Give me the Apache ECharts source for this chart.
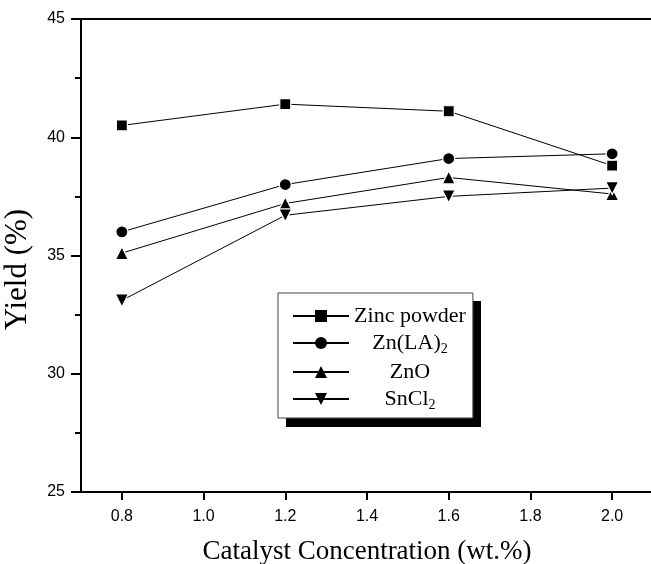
<!DOCTYPE html>
<html>
<head>
<meta charset="utf-8">
<script src="https://cdn.jsdelivr.net/npm/echarts@6/dist/echarts.min.js"></script>
<style>
  html, body { margin: 0; padding: 0; background: #fff; }
  #main { width: 651px; height: 564px; }
</style>
</head>
<body>
<div id="main"></div>
<script>
// catalyst concentration (wt.%) on x, yield (%) on y
var concentration = [0.8, 1.2, 1.6, 2.0];
var zincPowder = [40.5, 41.4, 41.1, 38.8];
var znLA2 = [36.0, 38.0, 39.1, 39.3];
var znO = [35.1, 37.2, 38.3, 37.6];
var snCl2 = [33.1, 36.7, 37.5, 37.85];
var xTicks = [0.8, 1.0, 1.2, 1.4, 1.6, 1.8, 2.0];

var names = ['Zinc powder', 'Zn(LA)2', 'ZnO', 'SnCl2'];
// legend labels with subscripts
var legendText = {
    'Zinc powder': '{a|Zinc powder}',
    'Zn(LA)2': '{a|Zn(LA)}{s|2}',
    'ZnO': '{a|ZnO}',
    'SnCl2': '{a|SnCl}{s|2}'
};

function pairs(ys) {
    var out = [];
    for (var i = 0; i < concentration.length; i++) {
        out.push([concentration[i], ys[i]]);
    }
    return out;
}

function makeSeries(name, ys, symbol, rotate, size) {
    return {
        name: name,
        type: 'line',
        data: pairs(ys),
        symbol: symbol,
        symbolSize: size,
        symbolRotate: rotate,
        lineStyle: {color: '#000', width: 1},
        itemStyle: {color: '#000', borderColor: '#fff', borderWidth: 1.2},
        emphasis: {disabled: true}
    };
}

var myChart = echarts.init(document.getElementById('main'));

var option = {
    animation: false,
    grid: {left: 81, top: 19, right: -2, bottom: 72, outerBoundsMode: 'none', containLabel: false},
    // legend drop shadow
    graphic: [{
        type: 'rect',
        z: 0,
        shape: {x: 286, y: 301, width: 195, height: 126},
        style: {fill: '#000'}
    }],
    legend: {
        orient: 'vertical',
        left: 278,
        top: 293,
        z: 10,
        data: names,
        itemWidth: 56,
        itemHeight: 15,
        itemGap: 5,
        padding: [12, 7, 6, 14],
        backgroundColor: '#fff',
        borderColor: '#444',
        borderWidth: 1,
        itemStyle: {borderWidth: 0},
        formatter: function (n) { return legendText[n]; },
        textStyle: {
            width: 112,
            rich: {
                a: {fontFamily: 'Liberation Serif', fontSize: 22, color: '#000', align: 'center'},
                s: {fontFamily: 'Liberation Serif', fontSize: 14, color: '#000', align: 'center', padding: [12, 0, 0, 0]}
            }
        }
    },
    xAxis: [{
        type: 'value',
        min: 0.7,
        max: 2.1,
        name: 'Catalyst Concentration (wt.%)',
        nameLocation: 'middle',
        nameGap: 46,
        nameTextStyle: {fontFamily: 'Liberation Serif', fontSize: 27, color: '#000'},
        axisLine: {lineStyle: {color: '#000', width: 2}},
        axisTick: {show: true, length: 8, customValues: xTicks, lineStyle: {color: '#000', width: 2}},
        axisLabel: {
            customValues: xTicks,
            margin: 17,
            fontFamily: 'Liberation Sans',
            fontSize: 16,
            color: '#000',
            formatter: function (v) { return v.toFixed(1); }
        },
        splitLine: {show: false}
    }, {
        type: 'value',
        position: 'top',
        min: 0.7,
        max: 2.1,
        axisLine: {show: true, lineStyle: {color: '#000', width: 2}},
        axisTick: {show: false},
        axisLabel: {show: false},
        splitLine: {show: false}
    }],
    yAxis: {
        type: 'value',
        min: 25,
        max: 45,
        interval: 5,
        name: 'Yield (%)',
        nameLocation: 'middle',
        nameGap: 48,
        nameTextStyle: {fontFamily: 'Liberation Serif', fontSize: 31, color: '#000', padding: [0, 28, 0, 0]},
        axisLine: {show: true, lineStyle: {color: '#000', width: 2}},
        axisTick: {show: true, length: 10, lineStyle: {color: '#000', width: 2}},
        minorTick: {show: true, splitNumber: 2, length: 6, lineStyle: {color: '#000', width: 2}},
        axisLabel: {margin: 16, fontFamily: 'Liberation Sans', fontSize: 16, color: '#000'},
        splitLine: {show: false}
    },
    series: [
        makeSeries('Zinc powder', zincPowder, 'rect', 0, 11),
        makeSeries('Zn(LA)2', znLA2, 'circle', 0, 12),
        makeSeries('ZnO', znO, 'triangle', 0, 13),
        makeSeries('SnCl2', snCl2, 'triangle', 180, 13)
    ]
};

myChart.setOption(option);
</script>
</body>
</html>
